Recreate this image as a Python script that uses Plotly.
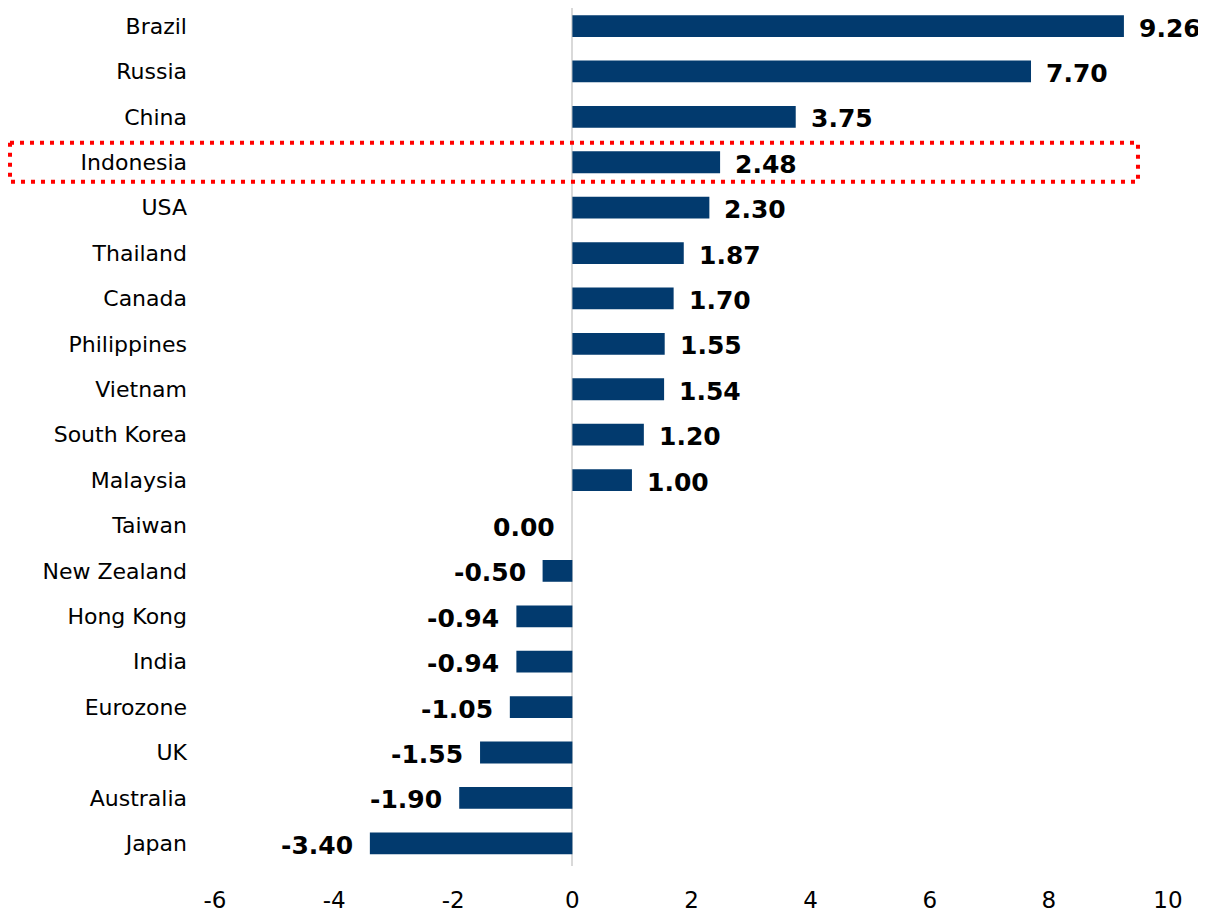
import plotly.graph_objects as go

countries = ["Brazil", "Russia", "China", "Indonesia", "USA", "Thailand", "Canada",
             "Philippines", "Vietnam", "South Korea", "Malaysia", "Taiwan",
             "New Zealand", "Hong Kong", "India", "Eurozone", "UK", "Australia", "Japan"]
values = [9.26, 7.70, 3.75, 2.48, 2.30, 1.87, 1.70, 1.55, 1.54, 1.20, 1.00, 0.00,
          -0.50, -0.94, -0.94, -1.05, -1.55, -1.90, -3.40]
x_ticks = [-6, -4, -2, 0, 2, 4, 6, 8, 10]
highlight = "Indonesia"

BAR = "#023A6E"
FONT = "DejaVu Sans"

fig = go.Figure()
fig.add_trace(go.Bar(
    x=values, y=countries, orientation="h",
    marker=dict(color=BAR, line=dict(width=0)),
    width=0.48, hoverinfo="skip",
))

for c, v in zip(countries, values):
    pos = v > 0
    fig.add_annotation(
        x=v, y=c, xref="x", yref="y",
        text=f"<b>{v:.2f}</b>",
        showarrow=False,
        xanchor="left" if pos else "right",
        xshift=13 if pos else -15,
        yshift=-2,
        font=dict(family=FONT, size=25, color="#000000"),
    )

hi = countries.index(highlight)
fig.add_shape(
    type="rect", xref="paper", yref="y",
    x0=-0.2151, x1=0.9685, y0=hi - 0.43, y1=hi + 0.43,
    line=dict(color="#FF0000", width=4, dash="4px,6px"),
    fillcolor="rgba(0,0,0,0)",
)

fig.update_layout(
    width=1198, height=908,
    margin=dict(l=207, r=38, t=0, b=50),
    paper_bgcolor="white", plot_bgcolor="white",
    showlegend=False,
    font=dict(family=FONT, color="#000000"),
    xaxis=dict(
        range=[-6, 10], tickvals=x_ticks, ticktext=[str(t) for t in x_ticks],
        showgrid=False, zeroline=True, zerolinecolor="#D9D9D9", zerolinewidth=2,
        showline=False, ticks="", ticklabelstandoff=18, automargin=False,
        tickfont=dict(family=FONT, size=23),
    ),
    yaxis=dict(
        categoryorder="array", categoryarray=countries,
        range=[18.5, -0.397], automargin=False,
        showgrid=False, showline=False, ticks="", ticklabelstandoff=27,
        tickfont=dict(family=FONT, size=22),
    ),
)

fig.write_html("out.html")
